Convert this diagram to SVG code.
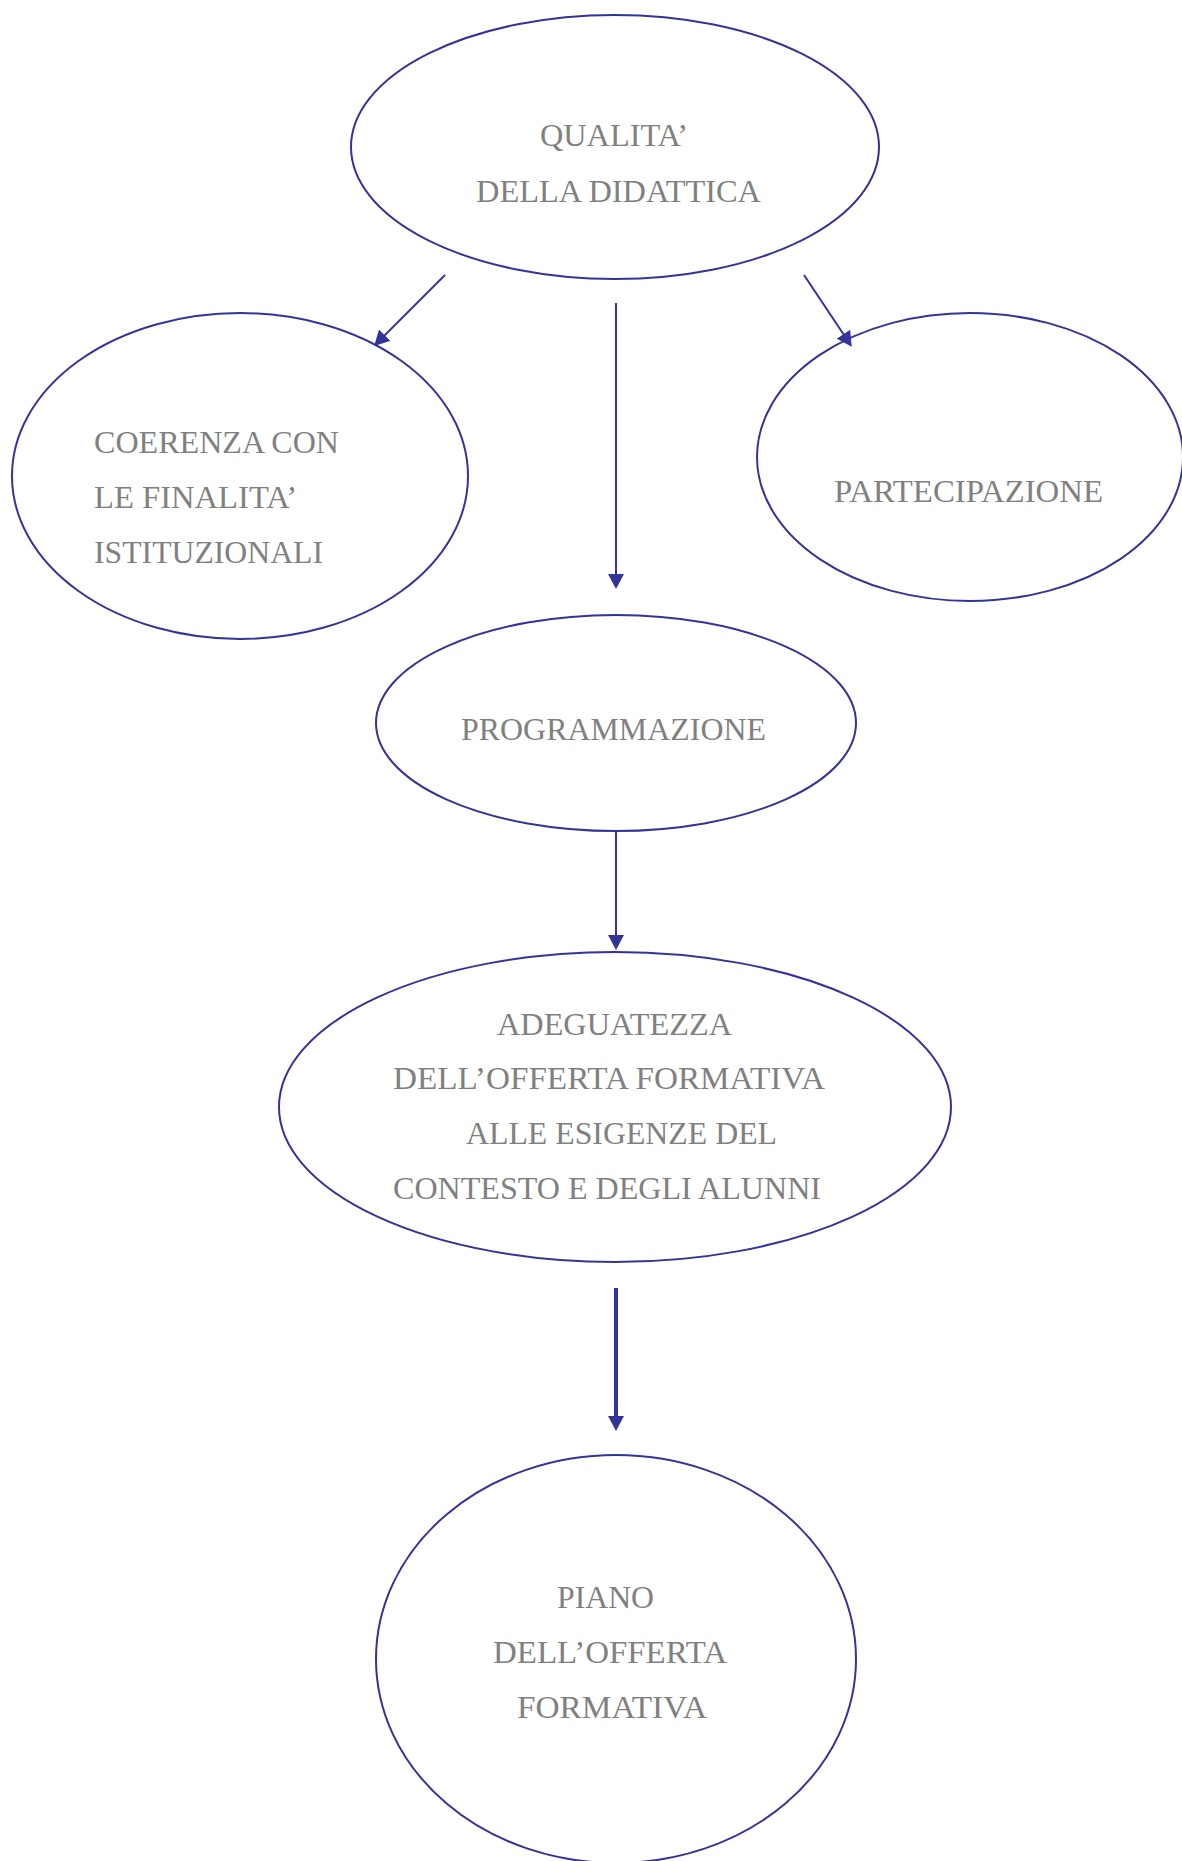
<svg xmlns="http://www.w3.org/2000/svg" width="1182" height="1861" viewBox="0 0 1182 1861">
<defs>
<style>
.shape{fill:#ffffff;stroke:#333399;stroke-width:2}
.lbl{fill:#808080;font-family:"Liberation Serif","Times New Roman",serif;font-size:32px}
.conn{stroke:#333399;stroke-width:2;fill:none}
.thick{stroke-width:4}
</style>
<marker id="arr" markerUnits="userSpaceOnUse" markerWidth="16" markerHeight="16" refX="1" refY="8" orient="auto" viewBox="0 0 16 16">
<path d="M0,0 L15,8 L0,16 z" fill="#333399"/>
</marker>
</defs>
<rect width="1182" height="1861" fill="#ffffff"/>
<g id="node-qualita">
<ellipse class="shape" cx="615" cy="147" rx="264" ry="132"/>
<text class="lbl" x="540" y="146" textLength="148" lengthAdjust="spacingAndGlyphs">QUALITA’</text>
<text class="lbl" x="476" y="202" textLength="285" lengthAdjust="spacingAndGlyphs">DELLA DIDATTICA</text>
</g>
<g id="node-coerenza">
<ellipse class="shape" cx="240" cy="476" rx="228" ry="163"/>
<text class="lbl" x="94" y="453" textLength="245" lengthAdjust="spacingAndGlyphs">COERENZA CON</text>
<text class="lbl" x="94" y="508" textLength="203" lengthAdjust="spacingAndGlyphs">LE FINALITA’</text>
<text class="lbl" x="94" y="563" textLength="229" lengthAdjust="spacingAndGlyphs">ISTITUZIONALI</text>
</g>
<g id="node-partecipazione">
<ellipse class="shape" cx="970" cy="457" rx="213" ry="144"/>
<text class="lbl" x="834" y="502" textLength="269" lengthAdjust="spacingAndGlyphs">PARTECIPAZIONE</text>
</g>
<g id="node-programmazione">
<ellipse class="shape" cx="616" cy="723" rx="240" ry="108"/>
<text class="lbl" x="461" y="740" textLength="305" lengthAdjust="spacingAndGlyphs">PROGRAMMAZIONE</text>
</g>
<g id="node-adeguatezza">
<ellipse class="shape" cx="615" cy="1107" rx="336" ry="155"/>
<text class="lbl" x="497" y="1035" textLength="235" lengthAdjust="spacingAndGlyphs">ADEGUATEZZA</text>
<text class="lbl" x="393" y="1089" textLength="432" lengthAdjust="spacingAndGlyphs">DELL’OFFERTA FORMATIVA</text>
<text class="lbl" x="466" y="1144" textLength="311" lengthAdjust="spacingAndGlyphs">ALLE ESIGENZE DEL</text>
<text class="lbl" x="393" y="1199" textLength="428" lengthAdjust="spacingAndGlyphs">CONTESTO E DEGLI ALUNNI</text>
</g>
<g id="node-piano">
<ellipse class="shape" cx="616" cy="1659" rx="240" ry="204"/>
<text class="lbl" x="557" y="1608" textLength="97" lengthAdjust="spacingAndGlyphs">PIANO</text>
<text class="lbl" x="493" y="1663" textLength="234" lengthAdjust="spacingAndGlyphs">DELL’OFFERTA</text>
<text class="lbl" x="517" y="1718" textLength="190" lengthAdjust="spacingAndGlyphs">FORMATIVA</text>
</g>
<g id="connectors">
<line class="conn" x1="445" y1="275" x2="384" y2="336" marker-end="url(#arr)"/>
<line class="conn" x1="804" y1="275" x2="844" y2="335" marker-end="url(#arr)"/>
<line class="conn" x1="616" y1="303" x2="616" y2="575" marker-end="url(#arr)"/>
<line class="conn" x1="616" y1="831" x2="616" y2="936" marker-end="url(#arr)"/>
<line class="conn thick" x1="616" y1="1288" x2="616" y2="1417" marker-end="url(#arr)"/>
</g>
</svg>
